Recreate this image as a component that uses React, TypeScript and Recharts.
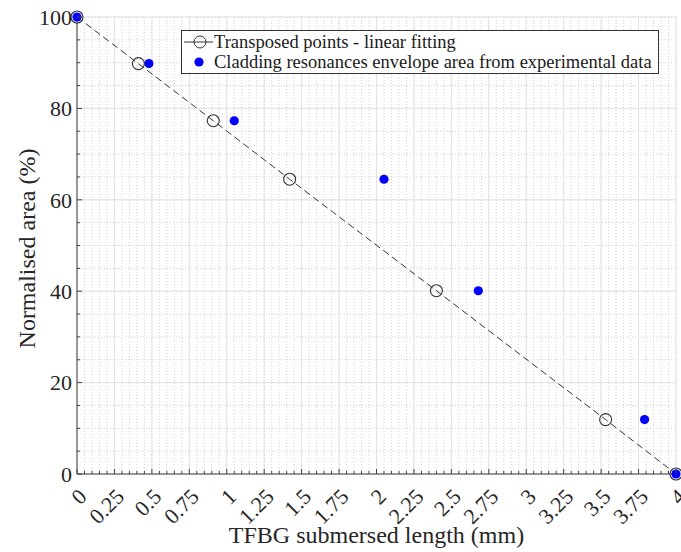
import { ComposedChart, Line, Scatter, XAxis, YAxis, CartesianGrid, Legend } from 'recharts';

// transposed points (on the linear fit)
const FIT_X = [0, 0.41, 0.91, 1.42, 2.4, 3.53, 4];
const FIT_Y = [100, 89.8, 77.3, 64.5, 40.1, 11.9, 0];

// cladding resonances envelope area, experimental
const EXP_X = [0, 0.48, 1.05, 2.05, 2.68, 3.79, 4];
const EXP_Y = [100, 89.8, 77.3, 64.5, 40.1, 11.9, 0];

const X_MAJOR = [0, 0.25, 0.5, 0.75, 1, 1.25, 1.5, 1.75, 2, 2.25, 2.5, 2.75, 3, 3.25, 3.5, 3.75, 4];
const X_LABELS = ['0', '0.25', '0.5', '0.75', '1', '1.25', '1.5', '1.75', '2', '2.25', '2.5', '2.75', '3', '3.25', '3.5', '3.75', '4'];
const Y_MAJOR = [0, 20, 40, 60, 80, 100];
const Y_LABELS = ['0', '20', '40', '60', '80', '100'];

const X_MINOR = Array.from({ length: 81 }, (_, i) => +(i * 0.05).toFixed(2));
const Y_MINOR = Array.from({ length: 21 }, (_, i) => i * 5);

const fitData = FIT_X.map((x, i) => ({ x, y: FIT_Y[i] }));
const expData = EXP_X.map((x, i) => ({ x, y: EXP_Y[i] }));

const SERIF = '"Liberation Serif", "Times New Roman", serif';
const AXIS = '#404040';
const TEXT = '#262626';

const BottomTick = (props: any) => {
  const { x, y, payload } = props;
  const k = X_MAJOR.indexOf(payload.value);
  return (
    <g>
      <line x1={x} x2={x} y1={y} y2={y - (k >= 0 ? 5 : 3)} stroke={AXIS} />
      {k >= 0 && (
        <text
          transform={`translate(${x + 11},${y + 24}) rotate(-45)`}
          textAnchor="end"
          fontFamily={SERIF}
          fontSize={22}
          fill={TEXT}
        >
          {X_LABELS[k]}
        </text>
      )}
    </g>
  );
};

const TopTick = (props: any) => {
  const { x, y, payload } = props;
  const major = X_MAJOR.includes(payload.value);
  return <line x1={x} x2={x} y1={y} y2={y + (major ? 5 : 3)} stroke={AXIS} />;
};

const LeftTick = (props: any) => {
  const { x, y, payload } = props;
  const k = Y_MAJOR.indexOf(payload.value);
  return (
    <g>
      <line x1={x} x2={x + (k >= 0 ? 5 : 3)} y1={y} y2={y} stroke={AXIS} />
      {k >= 0 && (
        <text x={x - 5} y={y} dy="0.35em" textAnchor="end" fontFamily={SERIF} fontSize={22} fill={TEXT}>
          {Y_LABELS[k]}
        </text>
      )}
    </g>
  );
};

const RightTick = (props: any) => {
  const { x, y, payload } = props;
  const major = Y_MAJOR.includes(payload.value);
  return <line x1={x} x2={x - (major ? 5 : 3)} y1={y} y2={y} stroke={AXIS} />;
};

const OpenCircle = (props: any) => {
  const { cx, cy } = props;
  if (cx == null || cy == null) return null;
  return <circle key={`c-${cx}-${cy}`} cx={cx} cy={cy} r={6} fill="none" stroke="#333" strokeWidth={1.1} />;
};

const BlueDot = (props: any) => {
  const { cx, cy } = props;
  return <circle cx={cx} cy={cy} r={4.6} fill="#0000ff" />;
};

const LegendBox = () => (
  <div
    style={{
      border: '1px solid #333',
      background: '#fff',
      fontFamily: SERIF,
      fontSize: 18.5,
      color: '#1a1a1a',
      padding: '1px 6px 1px 1px',
      lineHeight: '20px',
      whiteSpace: 'nowrap',
    }}
  >
    <div style={{ display: 'flex', alignItems: 'center', height: 20 }}>
      <svg width={31} height={16} style={{ marginRight: 0 }}>
        <line x1={1} x2={30} y1={8} y2={8} stroke="#333" />
        <circle cx={17} cy={8} r={6} fill="#fff" stroke="#333" />
        <line x1={11} x2={23} y1={8} y2={8} stroke="#333" />
      </svg>
      <span>Transposed points - linear fitting</span>
    </div>
    <div style={{ display: 'flex', alignItems: 'center', height: 20 }}>
      <svg width={31} height={16}>
        <circle cx={16} cy={8} r={4.6} fill="#0000ff" />
      </svg>
      <span>Cladding resonances envelope area from experimental data</span>
    </div>
  </div>
);

export default function App() {
  return (
    <div style={{ position: 'absolute', left: 0, top: 0, background: '#fff' }}>
      <ComposedChart width={681} height={552} margin={{ top: 17, right: 5, left: 0, bottom: 0 }}>
        <CartesianGrid
          xAxisId="b"
          yAxisId="l"
          verticalValues={X_MINOR}
          horizontalValues={Y_MINOR}
          stroke="#d2d2d2"
          strokeDasharray="1 2"
        />
        <CartesianGrid
          xAxisId="b"
          yAxisId="l"
          verticalValues={X_MAJOR}
          horizontalValues={Y_MAJOR}
          stroke="#e2e2e2"
        />
        <XAxis
          xAxisId="b"
          dataKey="x"
          type="number"
          domain={[0, 4]}
          ticks={X_MINOR}
          interval={0}
          height={78}
          tickSize={0}
          tickMargin={0}
          tickLine={false}
          tick={<BottomTick />}
          stroke={AXIS}
          label={(p: any) => {
            const vb = p.viewBox;
            return (
              <text x={vb.x + vb.width / 2} y={vb.y + 69} textAnchor="middle" fontFamily={SERIF} fontSize={24} fill={TEXT}>
                TFBG submersed length (mm)
              </text>
            );
          }}
        />
        <XAxis
          xAxisId="t"
          orientation="top"
          type="number"
          domain={[0, 4]}
          ticks={X_MINOR}
          interval={0}
          height={0}
          tickSize={0}
          tickMargin={0}
          tickLine={false}
          tick={<TopTick />}
          stroke={AXIS}
        />
        <YAxis
          yAxisId="l"
          dataKey="y"
          type="number"
          domain={[0, 100]}
          ticks={Y_MINOR}
          interval={0}
          width={77}
          tickSize={0}
          tickMargin={0}
          tickLine={false}
          tick={<LeftTick />}
          stroke={AXIS}
          label={(p: any) => {
            const vb = p.viewBox;
            const cx = vb.x + 35;
            const cy = vb.y + vb.height / 2 + 3;
            return (
              <text x={cx} y={cy} transform={`rotate(-90 ${cx} ${cy})`} textAnchor="middle" fontFamily={SERIF} fontSize={24} fill={TEXT}>
                Normalised area (%)
              </text>
            );
          }}
        />
        <YAxis
          yAxisId="r"
          orientation="right"
          type="number"
          domain={[0, 100]}
          ticks={Y_MINOR}
          interval={0}
          width={0}
          tickSize={0}
          tickMargin={0}
          tickLine={false}
          tick={<RightTick />}
          stroke={AXIS}
        />
        <Scatter
          xAxisId="b"
          yAxisId="l"
          data={expData}
          dataKey="y"
          shape={<BlueDot />}
          isAnimationActive={false}
        />
        <Line
          xAxisId="b"
          yAxisId="l"
          data={fitData}
          dataKey="y"
          type="linear"
          stroke="#333"
          strokeWidth={1}
          strokeDasharray="7 4"
          dot={<OpenCircle />}
          activeDot={false}
          isAnimationActive={false}
        />
        <Legend
          layout="horizontal"
          verticalAlign="middle"
          align="center"
          content={<LegendBox />}
          wrapperStyle={{ top: 30, left: 181, width: 'auto' }}
        />
      </ComposedChart>
    </div>
  );
}
